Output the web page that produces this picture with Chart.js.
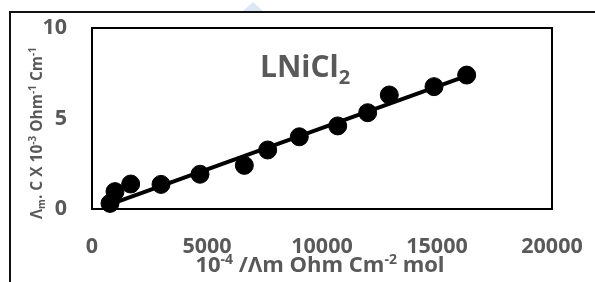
<!DOCTYPE html>
<html>
<head>
<meta charset="utf-8">
<script src="https://cdn.jsdelivr.net/npm/chart.js@4.4.1/dist/chart.umd.min.js"></script>
<style>
  html, body { margin: 0; padding: 0; background: #fff; }
  #wrap { position: relative; width: 595px; height: 282px; overflow: hidden; }
  #frame { position: absolute; left: 9px; top: 11px; width: 700px; height: 400px; border-left: 2px solid #111; border-top: 2px solid #111; }
  #mark { position: absolute; left: 243px; top: 2px; width: 0; height: 0;
          border-left: 10px solid transparent; border-right: 10px solid transparent; border-bottom: 9px solid #dde6f5; }
  canvas { position: absolute; left: 0; top: 0; }
</style>
</head>
<body>
<div id="wrap">
  <div id="mark"></div>
  <div id="frame"></div>
  <canvas id="grafico" width="595" height="282"></canvas>
</div>
<script>
// datos
const concX = [783, 1000, 1682, 3000, 4696, 6623, 7638, 9014, 10683, 11986, 12926, 14870, 16290];
const condY = [0.31, 0.96, 1.38, 1.36, 1.92, 2.41, 3.26, 3.99, 4.59, 5.32, 6.30, 6.76, 7.40];
// linea de tendencia (extremos)
const trendX = [783, 16290];
const trendY = [0.25, 7.35];
const xTicks = [0, 5000, 10000, 15000, 20000];
const yTicks = [0, 5, 10];

const GRIS = '#595959';
const FUENTE = '"Open Sans", "DejaVu Sans", sans-serif';

// texto con superindices / subindices
function drawRich(ctx, parts, x, y, size, align) {
  const small = Math.round(size * 0.65);
  let total = 0;
  parts.forEach(p => {
    ctx.font = 'bold ' + (p.sup || p.sub ? small : size) + 'px ' + FUENTE;
    p.w = ctx.measureText(p.t).width;
    total += p.w;
  });
  let cx = align === 'center' ? x - total / 2 : x;
  ctx.textAlign = 'left';
  ctx.textBaseline = 'alphabetic';
  parts.forEach(p => {
    ctx.font = 'bold ' + (p.sup || p.sub ? small : size) + 'px ' + FUENTE;
    let dy = 0;
    if (p.sup) dy = -size * 0.38;
    if (p.sub) dy = size * 0.22;
    ctx.fillText(p.t, cx, y + dy);
    cx += p.w;
  });
}

const textos = {
  id: 'textos',
  beforeDatasetsDraw(chart) {
    const { ctx, chartArea: a } = chart;
    ctx.save();
    ctx.strokeStyle = '#000';
    ctx.lineWidth = 2;
    ctx.strokeRect(a.left, a.top, a.right - a.left, a.bottom - a.top);
    ctx.restore();
  },
  afterDraw(chart) {
    const { ctx } = chart;
    ctx.save();
    ctx.fillStyle = GRIS;
    drawRich(ctx, [{ t: 'LNiCl' }, { t: '2', sub: true }], 260, 77, 30, 'left');
    drawRich(ctx, [
      { t: '10' }, { t: '-4', sup: true }, { t: ' /\u039Bm Ohm Cm' }, { t: '-2', sup: true }, { t: ' mol' }
    ], 320, 272, 22, 'center');
    ctx.translate(36, 133);
    ctx.rotate(-Math.PI / 2);
    drawRich(ctx, [
      { t: '\u039B' }, { t: 'm', sub: true }, { t: '. C X 10' }, { t: '-3', sup: true },
      { t: ' Ohm' }, { t: '-1', sup: true }, { t: ' Cm' }, { t: '-1', sup: true }
    ], 0, 6, 15.5, 'center');
    ctx.restore();
  }
};

new Chart(document.getElementById('grafico'), {
  type: 'scatter',
  data: {
    datasets: [
      {
        label: 'tendencia',
        data: trendX.map((x, i) => ({ x: x, y: trendY[i] })),
        showLine: true,
        borderColor: '#000',
        borderWidth: 4,
        pointRadius: 0,
        clip: false
      },
      {
        label: 'LNiCl2',
        data: concX.map((x, i) => ({ x: x, y: condY[i] })),
        backgroundColor: '#000',
        borderColor: '#000',
        pointRadius: 9,
        pointHoverRadius: 9,
        clip: false
      }
    ]
  },
  options: {
    responsive: false,
    animation: false,
    devicePixelRatio: 1,
    layout: { padding: { left: 0, right: 43, top: 28, bottom: 0 } },
    plugins: { legend: { display: false }, tooltip: { enabled: false } },
    scales: {
      x: {
        type: 'linear',
        min: 0, max: 20000,
        afterBuildTicks: s => { s.ticks = xTicks.map(v => ({ value: v })); },
        afterFit: s => { s.height = 73; s.paddingLeft = 0; s.paddingRight = 0; },
        grid: { display: false, drawTicks: false },
        border: { display: false },
        ticks: { padding: 25, color: GRIS, font: { family: FUENTE, size: 21.5, weight: 'bold' }, maxRotation: 0,
                 callback: v => String(v) }
      },
      y: {
        type: 'linear',
        min: 0, max: 10,
        afterBuildTicks: s => { s.ticks = yTicks.map(v => ({ value: v })); },
        afterFit: s => { s.width = 92; s.paddingTop = 0; s.paddingBottom = 0; },
        grid: { display: false, drawTicks: false },
        border: { display: false },
        ticks: { padding: 25, color: GRIS, font: { family: FUENTE, size: 21.5, weight: 'bold' },
                 callback: v => String(v) }
      }
    }
  },
  plugins: [textos]
});
</script>
</body>
</html>
